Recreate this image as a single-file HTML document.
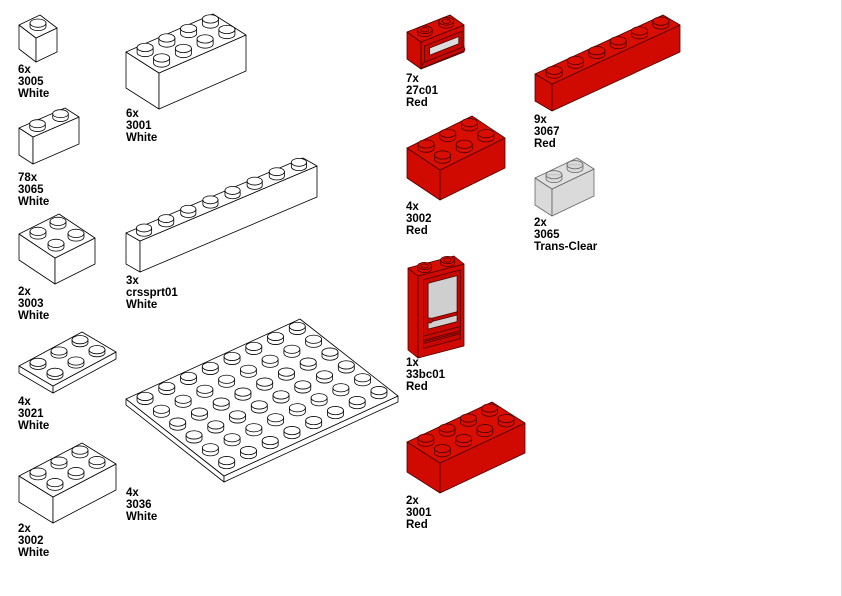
<!DOCTYPE html>
<html><head><meta charset="utf-8">
<style>
html,body{margin:0;padding:0;background:#fff;}
svg{display:block;}
text{font-family:"Liberation Sans",Arial,sans-serif;font-weight:bold;font-size:11.5px;fill:#000;}
</style></head>
<body>
<svg id="s" width="842" height="596" viewBox="0 0 842 596" xmlns="http://www.w3.org/2000/svg">
<rect x="0" y="0" width="842" height="596" fill="#fff"/>
<line x1="841.5" y1="0" x2="841.5" y2="596" stroke="#dcdcdc" stroke-width="1"/>
<g id="g"></g>
<text x="18" y="73">6x</text><text x="18" y="85">3005</text><text x="18" y="97">White</text>
<text x="126" y="117">6x</text><text x="126" y="129">3001</text><text x="126" y="141">White</text>
<text x="18" y="181">78x</text><text x="18" y="193">3065</text><text x="18" y="205">White</text>
<text x="126" y="284">3x</text><text x="126" y="296">crssprt01</text><text x="126" y="308">White</text>
<text x="18" y="295">2x</text><text x="18" y="307">3003</text><text x="18" y="319">White</text>
<text x="18" y="405">4x</text><text x="18" y="417">3021</text><text x="18" y="429">White</text>
<text x="126" y="496">4x</text><text x="126" y="508">3036</text><text x="126" y="520">White</text>
<text x="18" y="532">2x</text><text x="18" y="544">3002</text><text x="18" y="556">White</text>
<text x="406" y="82">7x</text><text x="406" y="94">27c01</text><text x="406" y="106">Red</text>
<text x="534" y="123">9x</text><text x="534" y="135">3067</text><text x="534" y="147">Red</text>
<text x="406" y="210">4x</text><text x="406" y="222">3002</text><text x="406" y="234">Red</text>
<text x="534" y="226">2x</text><text x="534" y="238">3065</text><text x="534" y="250">Trans-Clear</text>
<text x="406" y="366">1x</text><text x="406" y="378">33bc01</text><text x="406" y="390">Red</text>
<text x="406" y="504">2x</text><text x="406" y="516">3001</text><text x="406" y="528">Red</text>
</svg>
<script>
var g=document.getElementById('g');var out='';
var C={w:{f:'#fff',t:'#fff',s:'#000'},r:{f:'#d00a00',t:'#d80e00',s:'#4a0000'},c:{f:'rgba(205,205,205,0.75)',t:'rgba(215,215,215,0.75)',s:'#666'}};
function pt(a){return a[0].toFixed(1)+','+a[1].toFixed(1);}
function add(a,b){return [a[0]+b[0],a[1]+b[1]];}
function poly(ps,f,s){out+='<polygon points="'+ps.map(pt).join(' ')+'" fill="'+f+'" stroke="'+s+'" stroke-width="0.8" stroke-linejoin="round"/>';}
function face(D,L,h){return function(u,v){return [D[0]+u*L[0],D[1]+u*L[1]+v*h];};}
function brick(P,L,W,h,nL,nW,col,opt){
  opt=opt||{};var c=C[col];var H=[0,h];
  var A=P,B=add(P,L),D=add(P,W),E=add(add(P,L),W);
  poly([A,D,add(D,H),add(A,H)],c.f,c.s);
  poly([D,E,add(E,H),add(D,H)],c.f,c.s);
  poly([A,B,E,D],c.t,c.s);
  if(opt.after)opt.after(face(D,L,h));
  var sx=(Math.abs(L[0])/nL+Math.abs(W[0])/nW);
  var rx=opt.rx||sx*0.21,ry=rx*0.52,sh=opt.sh||Math.max(3,h*0.14);
  var st=[];
  for(var i=0;i<nL;i++)for(var j=0;j<nW;j++){
    var cx=P[0]+(i+.5)/nL*L[0]+(j+.5)/nW*W[0];
    var cy=P[1]+(i+.5)/nL*L[1]+(j+.5)/nW*W[1];st.push([cx,cy]);}
  st.sort(function(a,b){return a[1]-b[1];});
  st.forEach(function(s){var x=s[0],y=s[1];
    out+='<path d="M'+(x-rx)+','+y+' A'+rx+','+ry+' 0 0 0 '+(x+rx)+','+y+' L'+(x+rx)+','+(y-sh)+' L'+(x-rx)+','+(y-sh)+' Z" fill="'+c.t+'" stroke="'+c.s+'" stroke-width="0.8"/>';
    out+='<ellipse cx="'+x+'" cy="'+(y-sh)+'" rx="'+rx+'" ry="'+ry+'" fill="'+c.t+'" stroke="'+c.s+'" stroke-width="0.8"/>';
    if(opt.hollow)out+='<ellipse cx="'+x+'" cy="'+(y-sh)+'" rx="'+rx*0.55+'" ry="'+ry*0.55+'" fill="none" stroke="'+c.s+'" stroke-width="0.7"/>';
  });
}
var R='#c80800',RS='#4a0000';
// White
brick([19,25],[21,-10],[17,13],24,1,1,'w');
brick([126,52],[87,-38],[33,21],36,4,2,'w');
brick([19,128],[46,-20],[14,9],27,2,1,'w');
brick([126,233],[177,-75],[14,8],31,8,1,'w');
brick([19,234],[40,-20],[36,24],26,2,2,'w');
brick([19,366],[63,-34],[34,20],7,3,2,'w');
brick([126,399],[174,-80],[98,77],6,8,6,'w',{sh:4});
brick([19,476],[63,-33],[34,21],26,3,2,'w');
// Red
brick([407,32],[43,-17],[14,10],27,2,1,'r',{hollow:true,sh:3,after:function(f){
  poly([f(0.08,0.2),f(0.95,0.2),f(0.95,0.8),f(0.08,0.8)],R,RS);
  poly([f(0.2,0.35),f(0.88,0.35),f(0.88,0.62),f(0.2,0.62)],'#dcdcdc',RS);
  poly([f(0.05,0.8),f(1,0.8),f(1.02,0.95),f(0.0,0.98)],R,RS);
}});
brick([535,74],[128,-59],[17,10],27,6,1,'r');
brick([407,148],[65,-32],[33,22],30,3,2,'r');
brick([535,178],[42,-20],[17,11],27,2,1,'c');
brick([408,268],[46,-12],[10,8],82,2,1,'r',{hollow:true,sh:3,after:function(f){
  poly([f(0.12,0.06),f(0.92,0.06),f(0.92,0.82),f(0.12,0.82)],R,RS);
  poly([f(0.22,0.12),f(0.85,0.12),f(0.85,0.68),f(0.22,0.68)],'#cfcfcf',RS);
  poly([f(0.24,0.56),f(0.85,0.56),f(0.85,0.6),f(0.24,0.6)],R,RS);
  var h=f(0.26,0.58);out+='<circle cx="'+h[0]+'" cy="'+h[1]+'" r="2.6" fill="'+R+'" stroke="'+RS+'" stroke-width="0.7"/>';
  poly([f(0.12,0.75),f(0.92,0.75),f(0.92,0.8),f(0.12,0.8)],R,RS);
  poly([f(0.12,0.84),f(0.92,0.84),f(0.92,0.9),f(0.12,0.9)],R,RS);
}});
brick([407,442],[85,-40],[33,21],30,4,2,'r');
g.innerHTML=out;
</script>
</body></html>
